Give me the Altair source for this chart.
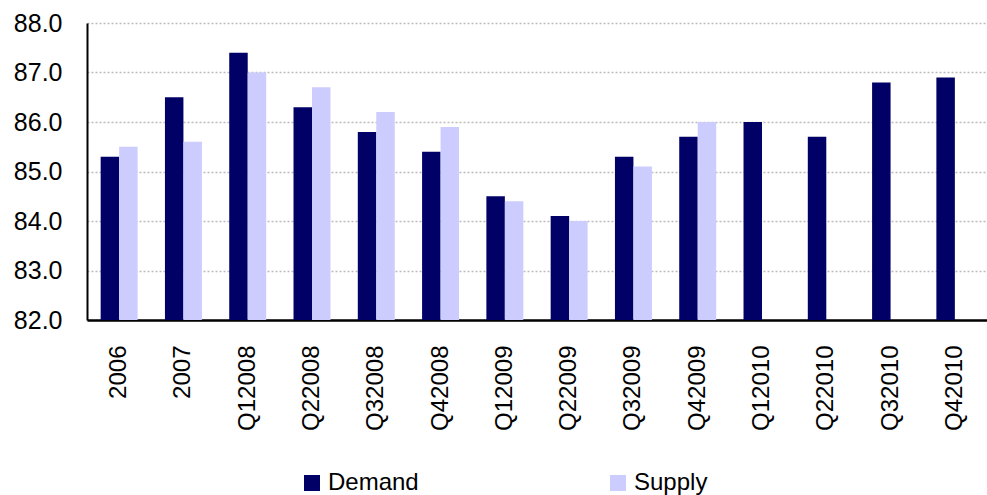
import altair as alt
import pandas as pd

categories = ["2006", "2007", "Q12008", "Q22008", "Q32008", "Q42008", "Q12009",
              "Q22009", "Q32009", "Q42009", "Q12010", "Q22010", "Q32010", "Q42010"]
demand = [85.3, 86.5, 87.4, 86.3, 85.8, 85.4, 84.5, 84.1, 85.3, 85.7, 86.0, 85.7, 86.8, 86.9]
supply = [85.5, 85.6, 87.0, 86.7, 86.2, 85.9, 84.4, 84.0, 85.1, 86.0, None, None, None, None]
series = ["Demand", "Supply"]
colors = ["#000066", "#CCCCFF"]
y_ticks = [82, 83, 84, 85, 86, 87, 88]

rows = []
for c, d, s in zip(categories, demand, supply):
    rows.append({"cat": c, "series": "Demand", "value": d})
    if s is not None:
        rows.append({"cat": c, "series": "Supply", "value": s})
df = pd.DataFrame(rows)

FONT = "Liberation Sans"

chart = alt.Chart(df).mark_bar(clip=True).encode(
    x=alt.X("cat:N", sort=categories,
            scale=alt.Scale(paddingInner=0.425, paddingOuter=0.2125),
            axis=alt.Axis(title=None, labelAngle=-90, labelAlign="right",
                          labelBaseline="middle", labelPadding=25, ticks=False,
                          domainColor="black", domainWidth=2.5,
                          labelFontSize=24, labelFont=FONT, labelColor="black")),
    xOffset=alt.XOffset("series:N", sort=series, scale=alt.Scale(paddingInner=0, paddingOuter=0)),
    y=alt.Y("value:Q", scale=alt.Scale(domain=[82, 88], nice=False, zero=False),
            axis=alt.Axis(title=None, values=y_ticks, format=".1f", ticks=False,
                          labelPadding=25, domainColor="black", domainWidth=2,
                          grid=True, gridColor="#bbbbbb", gridDash=[2, 2], gridWidth=1.5,
                          labelFontSize=25, labelFont=FONT, labelColor="black")),
    color=alt.Color("series:N", sort=series,
                    scale=alt.Scale(domain=series, range=colors),
                    legend=alt.Legend(title=None, orient="none", legendX=213, legendY=448,
                                      direction="horizontal", symbolType="square",
                                      symbolSize=256, symbolStrokeWidth=0,
                                      columnPadding=187, labelOffset=4, padding=0,
                                      labelFontSize=24, labelFont=FONT, labelColor="black")),
).properties(
    width=900, height=297,
    autosize=alt.AutoSizeParams(type="none"),
    padding={"left": 87, "top": 23, "right": 0, "bottom": 175},
).configure_view(stroke=None).configure_axis(gridOpacity=1)

chart.save("out.html", embed_options={"renderer": "svg", "actions": False})
